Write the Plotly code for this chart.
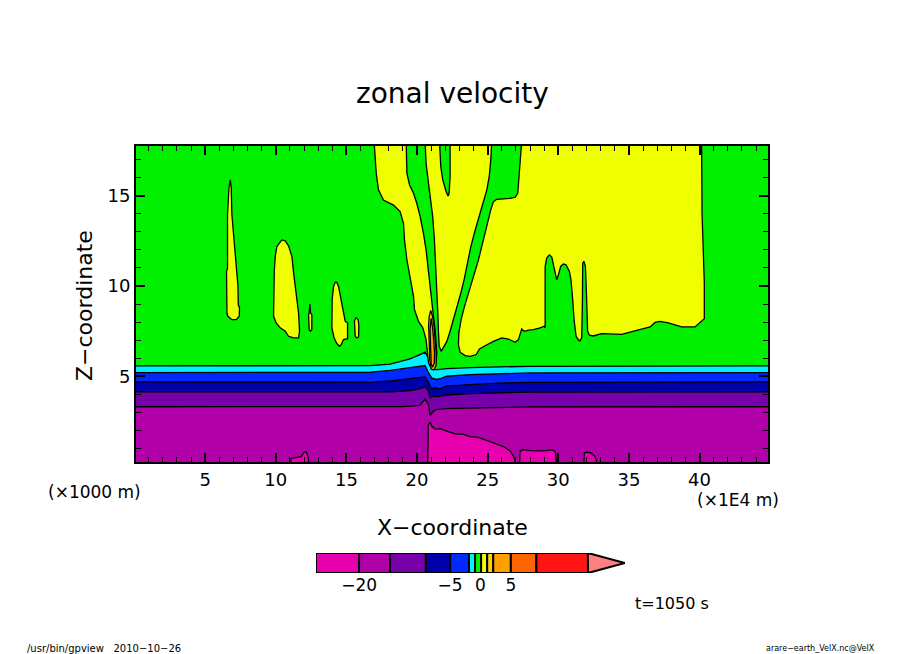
import plotly.graph_objects as go
import numpy as np

# ---------------- colours of the tone intervals ----------------
C_LT20 = "rgb(232,0,176)"     # < -20
C_20_15 = "rgb(178,0,168)"    # -20 .. -15
C_15_10 = "rgb(120,0,170)"    # -15 .. -10
C_10_5 = "rgb(0,0,170)"       # -10 .. -5
C_5_2 = "rgb(0,40,255)"       # -5 .. -2
C_2_1 = "rgb(0,240,255)"      # -2 .. -1
C_1_0 = "rgb(0,240,0)"        # -1 .. 0
C_0_1 = "rgb(240,255,0)"      # 0 .. 1
C_1_2 = "rgb(255,208,0)"      # 1 .. 2
C_2_5 = "rgb(255,160,0)"      # 2 .. 5
C_5_10 = "rgb(255,100,0)"     # 5 .. 10
C_10_20 = "rgb(255,20,20)"    # 10 .. max
C_OVER = "rgb(255,128,128)"   # over

# ---------------- colour bar (positions, in value units) ----------------
cbar_edges = [-27.1, -20.0, -14.9, -9.0, -5.0, -1.9, -0.9, 0.1, 1.1, 2.1, 5.0, 9.2, 17.7]
cbar_tip = 23.8
cbar_colors = [C_LT20, C_20_15, C_15_10, C_10_5, C_5_2, C_2_1, C_1_0, C_0_1,
               C_1_2, C_2_5, C_5_10, C_10_20]
cbar_tickvals = [-20, -5, 0, 5]
cbar_ticktext = ["\u221220", "\u22125", "0", "5"]

# ---------------- contour lines of the lower layer (z in km, x in 1E4 m) ----------------
band_x = [0.1, 15.0, 16.7, 18.1, 19.0, 19.5, 20.2, 20.57, 20.81, 20.93, 21.04,
          21.16, 21.28, 21.4, 21.63, 21.87, 22.1, 23.76, 26.1, 28.0, 44.9]
lev_m1 = [5.57, 5.57, 5.59, 5.67, 5.83, 5.96, 6.20, 6.33, 6.00, 5.70, 5.45,
          5.38, 5.35, 5.36, 5.38, 5.41, 5.42, 5.48, 5.53, 5.55, 5.57]
lev_m2 = [5.20, 5.20, 5.22, 5.32, 5.41, 5.47, 5.52, 5.59, 5.18, 5.00, 4.91,
          4.86, 4.83, 4.82, 4.86, 4.95, 5.00, 5.09, 5.16, 5.18, 5.20]
lev_m5 = [4.69, 4.69, 4.67, 4.74, 4.82, 4.86, 4.91, 4.96, 4.63, 4.40, 4.27,
          4.33, 4.36, 4.32, 4.30, 4.38, 4.45, 4.54, 4.63, 4.66, 4.69]
lev_m10 = [4.14, 4.14, 4.12, 4.14, 4.17, 4.20, 4.30, 4.41, 4.17, 3.81, 3.86,
           3.90, 3.88, 3.86, 3.90, 3.93, 3.96, 4.04, 4.10, 4.12, 4.14]
lev_m15 = [3.31, 3.31, 3.29, 3.30, 3.32, 3.34, 3.38, 3.75, 3.44, 2.83, 2.95,
           3.07, 3.12, 3.16, 3.18, 3.20, 3.21, 3.24, 3.28, 3.30, 3.31]

# ---------------- regions below -20 near the ground ----------------
lt20_a_x = [20.74, 20.80, 20.93, 21.04, 21.28, 21.63, 22.11, 22.8, 23.2, 23.76, 24.3,
            24.7, 25.4, 26.12, 26.6, 26.88, 27.0]
lt20_a_z = [0.0, 2.33, 2.43, 2.24, 2.06, 2.10, 1.96, 1.78, 1.80, 1.65, 1.62,
            1.51, 1.32, 1.10, 0.86, 0.49, 0.0]
lt20_b_x = [27.25, 27.3, 27.5, 28.0, 29.0, 29.4, 29.6, 29.8, 29.9]
lt20_b_z = [0.0, 0.85, 0.93, 0.88, 0.87, 0.92, 0.93, 0.80, 0.0]
lt20_c_x = [31.8, 31.85, 32.0, 32.3, 32.6, 32.85]
lt20_c_z = [0.0, 0.75, 0.79, 0.76, 0.55, 0.0]
lt20_d_x = [10.95, 11.1, 11.5, 11.8, 12.0, 12.15, 12.3, 12.35]
lt20_d_z = [0.0, 0.45, 0.50, 0.55, 0.80, 0.82, 0.50, 0.0]

# ---------------- positive (0..1) cells in the upper layer ----------------
pos1_x = [6.77, 6.84, 6.89, 7.15, 7.20, 7.32, 7.34, 7.43, 7.41, 7.20, 6.89, 6.61,
          6.54, 6.51, 6.58, 6.58, 6.68, 6.73]
pos1_z = [15.87, 15.50, 13.94, 11.45, 10.99, 9.98, 8.97, 8.78, 8.32, 8.13, 8.13, 8.32,
          8.50, 10.80, 10.99, 13.94, 15.41, 15.78]
pos2_x = [10.43, 10.67, 10.90, 11.14, 11.26, 11.37, 11.49, 11.61, 11.68, 11.61, 11.26,
          10.90, 10.67, 10.31, 10.03, 9.84, 9.89, 9.96, 10.07]
pos2_z = [12.55, 12.49, 12.22, 11.63, 10.71, 9.98, 9.24, 8.50, 7.49, 7.12, 7.12,
          7.21, 7.49, 7.68, 7.95, 8.32, 10.80, 11.63, 12.18]
pos3_x = [12.41, 12.46, 12.55, 12.55, 12.46, 12.36, 12.32, 12.36]
pos3_z = [9.00, 8.50, 8.41, 7.58, 7.49, 7.58, 8.41, 8.50]
pos4_x = [14.25, 14.32, 14.44, 14.56, 14.79, 14.91, 15.08, 15.08, 14.79, 14.63, 14.51,
          14.32, 14.13, 13.97, 13.99, 14.09, 14.20]
pos4_z = [10.21, 10.19, 9.98, 9.43, 8.60, 8.05, 7.95, 7.08, 7.03, 6.75, 6.66,
          6.81, 7.12, 7.68, 9.24, 9.98, 10.19]
pos5_x = [15.67, 15.83, 15.88, 15.86, 15.74, 15.62, 15.57]
pos5_z = [8.26, 8.13, 7.77, 7.18, 7.12, 7.21, 8.04]

posA_x = [16.96, 17.04, 17.11, 17.27, 17.62, 18.33, 18.80, 19.04, 19.11, 19.28, 19.47,
          19.63, 19.75, 19.82, 20.10, 20.41, 20.64, 20.74, 20.81, 21.04, 21.35, 21.40,
          21.35, 21.28, 21.16, 21.04, 20.93, 20.81, 20.64, 20.45, 20.22, 19.98, 19.75,
          19.47, 19.28, 19.23]
posA_z = [18.0, 16.97, 16.24, 15.32, 14.76, 14.48, 14.12, 13.47, 12.55, 11.45, 10.71,
          9.98, 9.42, 8.69, 8.04, 7.68, 7.03, 6.29, 5.74, 5.37, 5.74, 6.29,
          7.03, 7.58, 8.32, 9.24, 10.16, 11.08, 12.00, 12.92, 13.84, 14.58, 15.13,
          15.59, 16.24, 18.0]
posB_x = [20.57, 20.64, 20.81, 20.97, 21.11, 21.23, 21.33, 21.40, 21.47, 21.52, 21.57,
          21.71, 21.87, 22.11, 22.34, 22.58, 22.86, 23.10, 23.33, 23.57, 23.81, 24.12,
          24.42, 24.70, 24.94, 25.11, 25.22, 25.29, 22.34, 22.34, 22.27, 22.20, 22.06,
          21.82, 21.68, 21.59]
posB_z = [18.0, 16.79, 15.69, 14.76, 13.84, 12.55, 11.08, 9.79, 8.50, 7.40, 6.66,
          6.38, 6.57, 6.93, 7.49, 8.13, 8.87, 9.61, 10.34, 11.26, 12.18, 13.10,
          13.93, 14.67, 15.32, 16.05, 16.97, 18.0, 18.0, 16.05, 15.13, 14.98, 15.22,
          15.87, 16.61, 18.0]
posC_x = [27.41, 27.30, 27.23, 27.13, 26.95, 26.59, 25.65, 25.41, 25.22, 24.99, 24.70,
          24.35, 24.00, 23.64, 23.36, 23.12, 22.96, 22.93, 23.05, 23.40, 23.76, 24.19,
          24.42, 24.82, 25.41, 26.00, 26.47, 26.95, 27.18, 27.41, 27.58, 27.89, 28.24,
          28.71, 29.00, 29.07, 29.07, 29.18, 29.37, 29.54, 29.70, 29.89, 30.01, 30.17,
          30.36, 30.55, 30.79, 30.90, 31.02, 31.12, 31.26, 31.42, 31.54, 31.66, 31.71,
          31.73, 31.82, 31.92, 31.97, 32.01, 32.08, 32.20, 32.48, 33.07, 33.78, 34.49,
          35.08, 35.79, 36.50, 36.85, 37.20, 37.79, 38.74, 39.68, 40.03, 40.34, 40.34,
          40.25, 40.18, 40.15]
posC_z = [18.0, 16.97, 16.05, 15.13, 14.91, 14.85, 14.80, 14.67, 14.21, 13.47, 12.55,
          11.45, 10.53, 9.61, 8.87, 8.13, 7.40, 6.75, 6.33, 6.14, 6.10, 6.20,
          6.51, 6.69, 6.93, 7.12, 7.06, 6.88, 7.03, 7.62, 7.49, 7.55, 7.58,
          7.68, 7.77, 7.68, 11.08, 11.54, 11.72, 11.60, 11.08, 10.34, 10.62, 11.08,
          11.22, 11.17, 10.80, 10.34, 9.24, 8.13, 7.23, 7.01, 6.96, 7.14, 9.24,
          11.26, 11.36, 11.08, 10.16, 8.50, 7.49, 7.27, 7.23, 7.36, 7.32, 7.32,
          7.44, 7.58, 7.73, 7.98, 8.04, 7.95, 7.73, 7.73, 7.95, 8.19, 10.16,
          12.00, 14.02, 18.0]

# ---------------- the 1..2 and 2..5 cells at x~21 ----------------
pos12_x = [20.97, 21.10, 21.20, 21.28, 21.35, 21.35, 21.20, 21.00, 20.90, 20.88, 20.84,
           20.82, 20.86]
pos12_z = [8.65, 8.30, 7.80, 7.00, 6.30, 5.60, 5.35, 5.40, 5.90, 6.50, 7.20,
           7.80, 8.30]
pos25_x = [21.00, 21.10, 21.18, 21.24, 21.22, 21.10, 21.00, 20.97, 20.93, 20.92]
pos25_z = [8.20, 7.70, 7.00, 6.30, 5.70, 5.50, 5.70, 6.30, 7.00, 7.60]

LINE = dict(color="black", width=1.3)

fig = go.Figure()

# lower layer bands (each filled from its upper contour down to the ground)
for zz, col in [(lev_m1, C_2_1), (lev_m2, C_5_2), (lev_m5, C_10_5),
                (lev_m10, C_15_10), (lev_m15, C_20_15)]:
    fig.add_trace(go.Scatter(x=band_x, y=zz, mode="lines", fill="tozeroy",
                             fillcolor=col, line=LINE, hoverinfo="skip"))

for xs, zs in [(lt20_a_x, lt20_a_z), (lt20_b_x, lt20_b_z),
               (lt20_c_x, lt20_c_z), (lt20_d_x, lt20_d_z)]:
    fig.add_trace(go.Scatter(x=xs, y=zs, mode="lines", fill="toself",
                             fillcolor=C_LT20, line=LINE, hoverinfo="skip"))

for xs, zs in [(pos1_x, pos1_z), (pos2_x, pos2_z), (pos3_x, pos3_z),
               (pos4_x, pos4_z), (pos5_x, pos5_z), (posA_x, posA_z),
               (posB_x, posB_z), (posC_x, posC_z)]:
    fig.add_trace(go.Scatter(x=xs + [xs[0]], y=zs + [zs[0]], mode="lines",
                             fill="toself", fillcolor=C_0_1, line=LINE,
                             hoverinfo="skip"))

for xs, zs, col in [(pos12_x, pos12_z, C_1_2), (pos25_x, pos25_z, C_2_5)]:
    fig.add_trace(go.Scatter(x=xs + [xs[0]], y=zs + [zs[0]], mode="lines",
                             fill="toself", fillcolor=col, line=LINE,
                             hoverinfo="skip"))

# ---------------- colour bar ----------------
edges = np.array(cbar_edges)
fig.add_trace(go.Bar(x=np.diff(edges), base=edges[:-1], y=[0] * (len(edges) - 1),
                     orientation="h", width=1.0,
                     marker=dict(color=cbar_colors, line=dict(color="black", width=2)),
                     xaxis="x2", yaxis="y2", hoverinfo="skip"))
fig.add_trace(go.Scatter(x=[cbar_edges[-1], cbar_tip, cbar_edges[-1], cbar_edges[-1]],
                         y=[0.5, 0.0, -0.5, 0.5], mode="lines", fill="toself",
                         fillcolor=C_OVER, line=dict(color="black", width=2),
                         xaxis="x2", yaxis="y2", hoverinfo="skip"))

FONT = "DejaVu Sans"
# the page adds an 8px body margin, so the figure is 8px smaller on the left/top
fig.update_layout(
    width=896, height=646,
    margin=dict(l=128, r=136, t=138, b=74),
    paper_bgcolor="white", plot_bgcolor="white",
    showlegend=False,
    font=dict(family=FONT, color="black"),
    xaxis=dict(domain=[0, 1], range=[0.1, 44.85], anchor="y",
               tickvals=[5, 10, 15, 20, 25, 30, 35, 40],
               ticks="inside", ticklen=9, tickwidth=2, tickcolor="black",
               showline=True, linewidth=2, linecolor="black", mirror="allticks",
               showgrid=False, zeroline=False, tickfont=dict(size=18),
               minor=dict(tickvals=list(range(1, 45)), ticks="inside", ticklen=5,
                          tickwidth=1, tickcolor="black", showgrid=False)),
    yaxis=dict(domain=[0.2719, 1.0], range=[0.25, 17.75], anchor="x",
               tickvals=[5, 10, 15],
               ticks="inside", ticklen=9, tickwidth=2, tickcolor="black",
               showline=True, linewidth=2, linecolor="black", mirror="allticks",
               showgrid=False, zeroline=False, tickfont=dict(size=18),
               minor=dict(tickvals=list(range(1, 18)), ticks="inside", ticklen=5,
                          tickwidth=1, tickcolor="black", showgrid=False)),
    xaxis2=dict(domain=[0.2848, 0.7737], range=[cbar_edges[0], cbar_tip], anchor="y2",
                tickvals=cbar_tickvals, ticktext=cbar_ticktext, ticks="",
                showline=False, showgrid=False, zeroline=False,
                tickfont=dict(size=17)),
    yaxis2=dict(domain=[0.0161, 0.0622], range=[-0.5, 0.5], anchor="x2",
                visible=False),
    barmode="overlay",
    shapes=[dict(type="rect", xref="x domain", yref="y domain", x0=0, x1=1, y0=0, y1=1,
                 fillcolor=C_1_0, line=dict(width=0), layer="below")],
)

ann = [
    dict(text="zonal velocity", x=0.5, y=1.1221, size=28),
    dict(text="Z\u2212coordinate", x=-0.0823, y=0.6336, size=22, angle=-90),
    dict(text="X\u2212coordinate", x=0.5, y=0.1221, size=22),
    dict(text="(\u00d71000 m)", x=-0.0649, y=0.2028, size=17),
    dict(text="(\u00d71E4 m)", x=0.9525, y=0.1843, size=17),
    dict(text="t=1050 s", x=0.8481, y=-0.0530, size=16),
]
for a in ann:
    fig.add_annotation(text=a["text"], x=a["x"], y=a["y"], xref="paper", yref="paper",
                       showarrow=False, xanchor="center", yanchor="middle",
                       textangle=a.get("angle", 0),
                       font=dict(size=a["size"], family=FONT, color="black"))
fig.add_annotation(text="/usr/bin/gpview\u00a0\u00a0\u00a02010\u221210\u221226",
                   x=-0.1756, y=-0.1567, xref="paper", yref="paper", showarrow=False,
                   xanchor="left", yanchor="middle", font=dict(size=10, family=FONT))
fig.add_annotation(text="arare\u2212earth_VelX.nc@VelX",
                   x=1.1725, y=-0.1567, xref="paper", yref="paper", showarrow=False,
                   xanchor="right", yanchor="middle", font=dict(size=8, family=FONT))

fig.write_html("out.html")
